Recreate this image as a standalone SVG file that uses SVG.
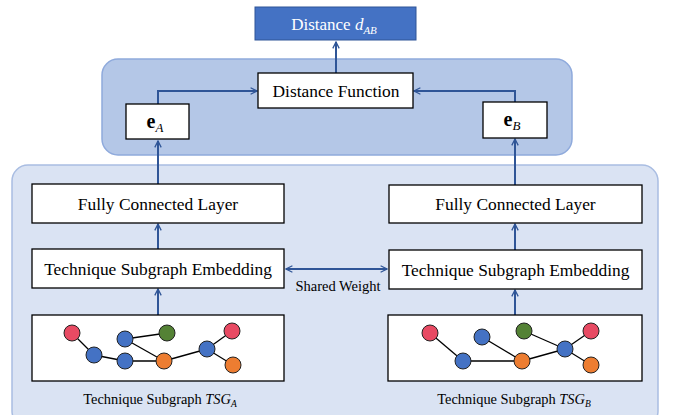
<svg xmlns="http://www.w3.org/2000/svg" width="673" height="415" viewBox="0 0 673 415" font-family="'Liberation Serif', 'Times New Roman', serif">
  <defs>
    <marker id="arrow" viewBox="0 0 10 10" refX="9" refY="5" markerWidth="8" markerHeight="8" markerUnits="userSpaceOnUse" orient="auto-start-reverse">
      <path d="M1,1 L9,5 L1,9" fill="none" stroke="#2F5597" stroke-width="1.6"/>
    </marker>
    <style>
      .panel-top { fill: #B4C7E7; stroke: #8FAADC; stroke-width: 1.5; }
      .panel-bottom { fill: #DAE3F3; stroke: #A9BDE2; stroke-width: 1.5; }
      .box { fill: #FFFFFF; stroke: #000000; stroke-width: 1.3; }
      .link { fill: none; stroke: #2F5597; stroke-width: 2; }
      .edge { stroke: #000; stroke-width: 1.3; }
      .n { stroke: #222; stroke-width: 1; }
      .red { fill: #E84A63; }
      .blue { fill: #4472C4; }
      .green { fill: #548235; }
      .orange { fill: #ED7D31; }
    </style>
  </defs>

  <!-- background panels -->
  <rect class="panel-bottom" x="12" y="165" width="646" height="262" rx="16"/>
  <rect class="panel-top" x="102" y="59" width="470" height="96" rx="16"/>

  <!-- connectors -->
  <g id="connectors">
    <path class="link" d="M336,73 L336,42" marker-end="url(#arrow)"/>
    <path class="link" d="M158,104 L158,91 L257,91" marker-end="url(#arrow)"/>
    <path class="link" d="M515,102 L515,91 L414,91" marker-end="url(#arrow)"/>
    <path class="link" d="M158,184 L158,141" marker-end="url(#arrow)"/>
    <path class="link" d="M515,185 L515,139" marker-end="url(#arrow)"/>
    <path class="link" d="M158,249 L158,224" marker-end="url(#arrow)"/>
    <path class="link" d="M515,250 L515,224" marker-end="url(#arrow)"/>
    <path class="link" d="M158,315 L158,289" marker-end="url(#arrow)"/>
    <path class="link" d="M515,315 L515,290" marker-end="url(#arrow)"/>
    <path class="link" d="M286,269 L387,269" marker-start="url(#arrow)" marker-end="url(#arrow)"/>
    <text x="338" y="291" font-size="14.5" text-anchor="middle" fill="#000">Shared Weight</text>
  </g>

  <!-- output -->
  <g id="distance-out">
    <rect x="255" y="7" width="161" height="33" fill="#4472C4" stroke="#2F5597" stroke-width="1"/>
    <text x="334" y="30" font-size="17" text-anchor="middle" fill="#FFFFFF">Distance <tspan font-style="italic">d</tspan><tspan font-style="italic" font-size="11" dy="4">AB</tspan></text>
  </g>

  <g id="distance-function">
    <rect class="box" x="258" y="73" width="155" height="35"/>
    <text x="336" y="97" font-size="17.4" text-anchor="middle" fill="#000">Distance Function</text>
  </g>

  <g id="embed-a">
    <rect class="box" x="126" y="104" width="63" height="35"/>
    <text x="155" y="128" font-size="20" text-anchor="middle" fill="#000"><tspan font-weight="bold">e</tspan><tspan font-style="italic" font-size="13" dy="4">A</tspan></text>
  </g>

  <g id="embed-b">
    <rect class="box" x="483" y="102" width="64" height="36"/>
    <text x="512" y="126" font-size="20" text-anchor="middle" fill="#000"><tspan font-weight="bold">e</tspan><tspan font-style="italic" font-size="13" dy="4">B</tspan></text>
  </g>

  <g id="fc-a">
    <rect class="box" x="32" y="184" width="252" height="39"/>
    <text x="158" y="209.5" font-size="17.4" text-anchor="middle" fill="#000">Fully Connected Layer</text>
  </g>

  <g id="fc-b">
    <rect class="box" x="389" y="185" width="253" height="38"/>
    <text x="515.5" y="210" font-size="17.4" text-anchor="middle" fill="#000">Fully Connected Layer</text>
  </g>

  <g id="tse-a">
    <rect class="box" x="32" y="249" width="252" height="39"/>
    <text x="158" y="274.5" font-size="17.4" text-anchor="middle" fill="#000">Technique Subgraph Embedding</text>
  </g>

  <g id="tse-b">
    <rect class="box" x="389" y="250" width="253" height="39"/>
    <text x="515.5" y="275.5" font-size="17.4" text-anchor="middle" fill="#000">Technique Subgraph Embedding</text>
  </g>

  <!-- subgraph A -->
  <g id="tsg-a">
    <rect class="box" x="32" y="315" width="252" height="66"/>
    <line class="edge" x1="72" y1="333" x2="94" y2="355"/>
    <line class="edge" x1="94" y1="355" x2="125" y2="361"/>
    <line class="edge" x1="125" y1="361" x2="164" y2="361"/>
    <line class="edge" x1="125" y1="339" x2="167" y2="333"/>
    <line class="edge" x1="125" y1="339" x2="164" y2="361"/>
    <line class="edge" x1="164" y1="361" x2="207" y2="349"/>
    <line class="edge" x1="207" y1="349" x2="232" y2="331"/>
    <line class="edge" x1="207" y1="349" x2="233" y2="365"/>
    <circle class="n red" cx="72" cy="333" r="8"/>
    <circle class="n blue" cx="94" cy="355" r="8"/>
    <circle class="n blue" cx="125" cy="339" r="8"/>
    <circle class="n green" cx="167" cy="333" r="8"/>
    <circle class="n blue" cx="125" cy="361" r="8"/>
    <circle class="n orange" cx="164" cy="361" r="8"/>
    <circle class="n blue" cx="207" cy="349" r="8"/>
    <circle class="n red" cx="232" cy="331" r="8"/>
    <circle class="n orange" cx="233" cy="365" r="8"/>
    <text x="160" y="404" font-size="14.4" text-anchor="middle" fill="#000">Technique Subgraph <tspan font-style="italic">TSG</tspan><tspan font-style="italic" font-size="9.5" dy="3">A</tspan></text>
  </g>

  <!-- subgraph B -->
  <g id="tsg-b">
    <rect class="box" x="388" y="315" width="254" height="66"/>
    <line class="edge" x1="430" y1="333" x2="463" y2="361"/>
    <line class="edge" x1="463" y1="361" x2="522" y2="361"/>
    <line class="edge" x1="482" y1="337" x2="522" y2="361"/>
    <line class="edge" x1="522" y1="361" x2="565" y2="349"/>
    <line class="edge" x1="524" y1="331" x2="565" y2="349"/>
    <line class="edge" x1="565" y1="349" x2="591" y2="331"/>
    <line class="edge" x1="565" y1="349" x2="591" y2="365"/>
    <circle class="n red" cx="430" cy="333" r="8"/>
    <circle class="n blue" cx="463" cy="361" r="8"/>
    <circle class="n blue" cx="482" cy="337" r="8"/>
    <circle class="n green" cx="524" cy="331" r="8"/>
    <circle class="n orange" cx="522" cy="361" r="8"/>
    <circle class="n blue" cx="565" cy="349" r="8"/>
    <circle class="n red" cx="591" cy="331" r="8"/>
    <circle class="n orange" cx="591" cy="365" r="8"/>
    <text x="514" y="404" font-size="14.4" text-anchor="middle" fill="#000">Technique Subgraph <tspan font-style="italic">TSG</tspan><tspan font-style="italic" font-size="9.5" dy="3">B</tspan></text>
  </g>
</svg>
